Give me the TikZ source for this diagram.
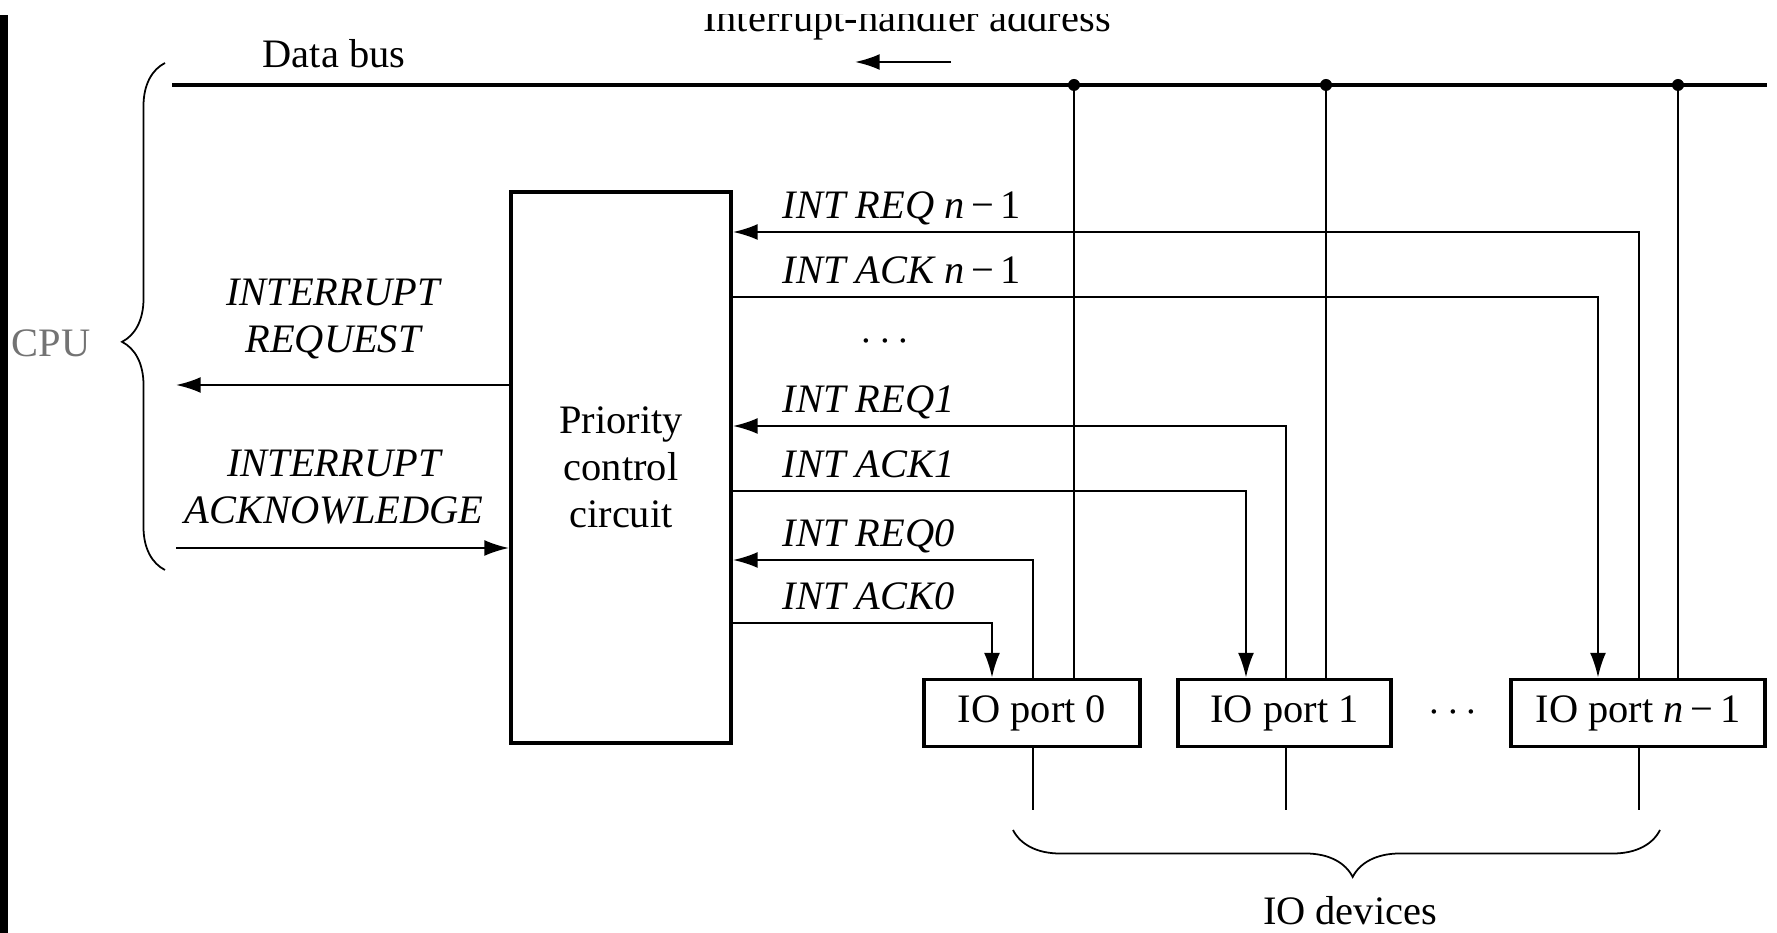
\documentclass[tikz,border=0pt]{standalone}
\usepackage{fontspec}
\setmainfont{Liberation Serif}
\usetikzlibrary{arrows.meta,positioning,decorations.pathreplacing}

\begin{document}
\begin{tikzpicture}[>={Latex[length=7pt,width=4.5pt]},font=\fontsize{11.5}{13.4}\selectfont,
  sig/.style={line width=0.6pt},
  box/.style={draw,line width=1.1pt,inner sep=0pt},
  lbl/.style={anchor=base west,inner sep=0pt,font=\fontsize{11.5}{13.4}\selectfont\itshape},
  brc/.style={decorate,line width=0.5pt}]
\useasboundingbox (0,0) rectangle (17.77,-9.33);
\fill (0,-0.15) rectangle (0.08,-9.33);
\begin{scope}
\clip (0,-0.15) rectangle (17.77,-1);
\node[anchor=base] (iha) at (9.07,-0.32) {Interrupt-handler address};
\end{scope}
\coordinate (ihaR) at (9.51,-0.62);
\coordinate (ihaL) at (8.55,-0.62);
\draw[->,sig] (ihaR) -- (ihaL);
\node[anchor=base] (dbus) at (3.34,-0.68) {Data bus};
\coordinate (busL) at (1.72,-0.85);
\coordinate (busR) at (17.67,-0.85);
\draw[line width=1pt] (busL) -- (busR);
\node[box,minimum width=2.2cm,minimum height=5.51cm,align=center] (pcc) at (6.21,-4.675) {Priority\\control\\circuit};
\node[box,minimum width=2.16cm,minimum height=0.67cm] (port0) at (10.32,-7.13) {IO port 0};
\node[box,minimum width=2.13cm,minimum height=0.67cm] (port1) at (12.845,-7.13) {IO port 1};
\node[box,minimum width=2.54cm,minimum height=0.67cm] (portn) at (16.38,-7.13) {IO port \textit{n}\,−\,1};
\node (pdots) at (14.53,-7.13) {$\cdots$};
\foreach \p/\lab/\xa/\xr/\xb/\ya/\yr in {0/0/9.92/10.33/10.74/6.23/5.60,1/1/12.46/12.86/13.26/4.91/4.26,n/{ n\,{\upshape −\,1}}/15.98/16.39/16.78/2.97/2.32}{
  \coordinate (ack\p) at (\xa,-\ya);
  \coordinate (req\p) at (\xr,-\yr);
  \coordinate (tap\p) at (\xb,-0.85);
  \coordinate (dev\p) at (\xr,-8.10);
  \draw[->,sig] (pcc.east |- ack\p) -- (ack\p) -- (ack\p |- port\p.north);
  \draw[->,sig] (req\p |- port\p.north) -- (req\p) -- (pcc.east |- req\p);
  \draw[sig] (tap\p) -- (tap\p |- port\p.north);
  \fill (tap\p) circle (0.06);
  \draw[sig] (req\p |- port\p.south) -- (dev\p);
  \node[lbl] (lreq\p) at (7.82,-\yr+0.13) {INT REQ\lab};
  \node[lbl] (lack\p) at (7.82,-\ya+0.13) {INT ACK\lab};
}
\node (ldots) at (8.85,-3.42) {$\cdots$};
\coordinate (cpuReq) at (1.76,-3.85);
\coordinate (cpuAck) at (1.76,-5.48);
\draw[->,sig] (pcc.west |- cpuReq) -- (cpuReq);
\draw[->,sig] (cpuAck) -- (pcc.west |- cpuAck);
\node[align=center,font=\fontsize{11.5}{13.4}\selectfont\itshape] (ireq) at (3.33,-3.19) {INTERRUPT\\REQUEST};
\node[align=center,font=\fontsize{11.5}{13.4}\selectfont\itshape] (iack) at (3.34,-4.87) {INTERRUPT\\ACKNOWLEDGE};
\node[text=black!55] (cpu) at (0.51,-3.43) {CPU};
\coordinate (cpuBot) at (1.65,-5.70);
\coordinate (cpuTop) at (1.65,-0.63);
\draw[brc,decoration={brace,amplitude=0.43cm,aspect=0.45}] (cpuBot) -- (cpuTop);
\coordinate (devR) at (16.60,-8.30);
\coordinate (devL) at (10.13,-8.30);
\draw[brc,decoration={brace,amplitude=0.47cm,aspect=0.475}] (devR) -- (devL);
\node[anchor=base] (iodev) at (13.50,-9.25) {IO devices};
\end{tikzpicture}
\end{document}
